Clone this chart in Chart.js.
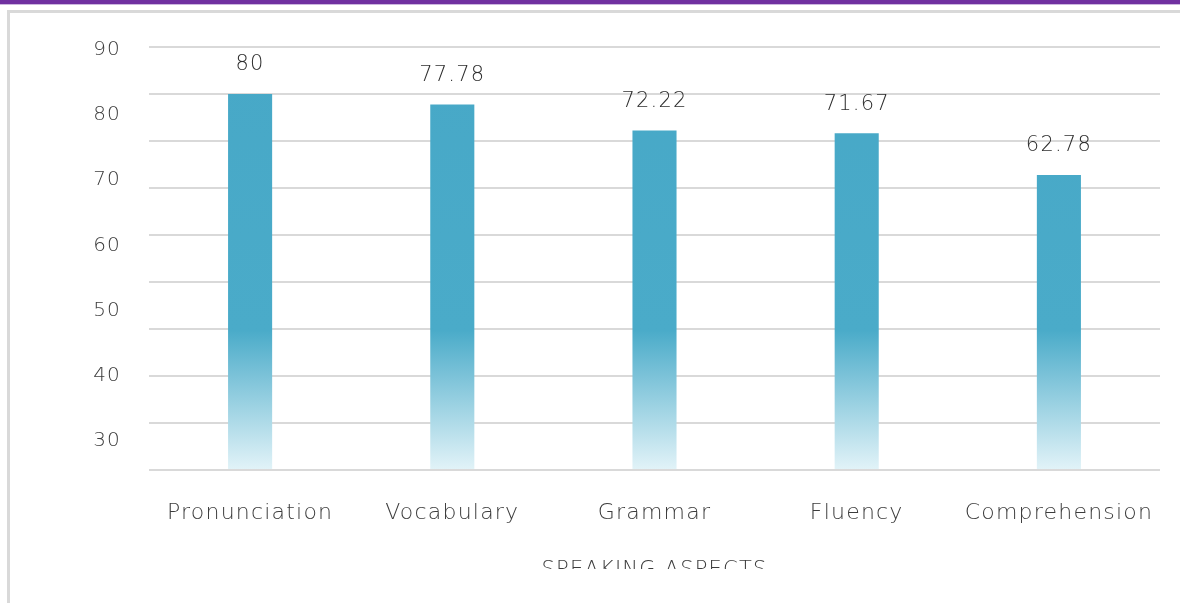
<!DOCTYPE html>
<html>
<head>
<meta charset="utf-8">
<title>Speaking aspects</title>
<script src="https://cdn.jsdelivr.net/npm/chart.js@4.4.1/dist/chart.umd.min.js"></script>
<style>
  html, body { margin: 0; padding: 0; background: #fff; }
  #wrap { position: relative; width: 1180px; height: 603px; overflow: hidden; }
  #chart { position: absolute; left: 0; top: 0; }
  #topBand { position: absolute; left: 0; top: 0; width: 1180px; height: 4px; background: #7030a0; border-bottom: 1px solid #cbb6de; }
  #frame { position: absolute; left: 7px; top: 10px; width: 1200px; height: 620px; border-top: 3px solid #d9d9d9; border-left: 3px solid #d9d9d9; box-sizing: border-box; }
  #cut { position: absolute; left: 10px; top: 569px; width: 1170px; height: 34px; background: #fff; }
</style>
</head>
<body>
<div id="wrap">
  <canvas id="chart" width="1180" height="603"></canvas>
  <div id="topBand"></div>
  <div id="frame"></div>
  <div id="cut"></div>
</div>
<script>
// datos del gráfico
const categories = ["Pronunciation", "Vocabulary", "Grammar", "Fluency", "Comprehension"];
const scores = [80, 77.78, 72.22, 71.67, 62.78];
const yTickLabels = [90, 80, 70, 60, 50, 40, 30];
const axisTitle = "SPEAKING ASPECTS";

Chart.defaults.font.family = "'DejaVu Sans', sans-serif";
Chart.defaults.font.weight = 300;
Chart.defaults.color = "#444";

// espaciado de letras, el original tiene el texto algo separado
const letterSpacing = {
  id: "letterSpacing",
  beforeDraw(chart) {
    chart.ctx.letterSpacing = "1.2px";
  },
};

// etiquetas de valor encima de cada barra
const valueLabels = {
  id: "valueLabels",
  afterDatasetsDraw(chart) {
    const ctx = chart.ctx;
    const meta = chart.getDatasetMeta(0);
    ctx.save();
    ctx.font = "300 21px 'DejaVu Sans'";
    ctx.fillStyle = "#2e2e2e";
    ctx.textAlign = "center";
    ctx.textBaseline = "middle";
    meta.data.forEach((bar, i) => {
      ctx.fillText(String(scores[i]), bar.x, bar.y - 29);
    });
    ctx.restore();
  },
};

function barGradient(context) {
  const { ctx, chartArea } = context.chart;
  if (!chartArea) return "#4aaac8";
  const g = ctx.createLinearGradient(0, chartArea.top, 0, chartArea.bottom);
  g.addColorStop(0, "#47a8c7");
  g.addColorStop(0.67, "#4aabc9");
  g.addColorStop(1, "#e2f3f8");
  return g;
}

const ctx = document.getElementById("chart").getContext("2d");
new Chart(ctx, {
  type: "bar",
  data: {
    labels: categories,
    datasets: [
      {
        data: scores,
        backgroundColor: barGradient,
        borderWidth: 0,
        barPercentage: 0.218,
        categoryPercentage: 1,
        yAxisID: "y",
      },
    ],
  },
  options: {
    responsive: false,
    animation: false,
    layout: { padding: { left: 0, right: 20, top: 47, bottom: 0 } },
    plugins: {
      legend: { display: false },
      tooltip: { enabled: false },
    },
    scales: {
      x: {
        grid: { display: false, drawTicks: false },
        border: { display: false },
        ticks: { font: { size: 22 }, color: "#3c3c3c", padding: 30, maxRotation: 0 },
        title: {
          display: true,
          text: axisTitle,
          font: { size: 21 },
          color: "#3c3c3c",
          padding: { top: 0, bottom: 20 },
        },
        afterFit(scale) {
          scale.height = 133;
        },
      },
      y: {
        position: "left",
        min: 0,
        max: 90,
        ticks: { display: false, stepSize: 10 },
        grid: { color: "#d9d9d9", lineWidth: 2, drawTicks: false },
        border: { display: false },
        afterFit(scale) {
          scale.width = 0;
        },
      },
      y2: {
        position: "left",
        min: 25.6,
        max: 90.4,
        grid: { display: false, drawTicks: false },
        border: { display: false },
        ticks: { font: { size: 20 }, color: "#3c3c3c", padding: 28, autoSkip: false },
        afterBuildTicks(scale) {
          scale.ticks = yTickLabels.map((v) => ({ value: v }));
        },
        afterFit(scale) {
          scale.width = 149;
        },
      },
    },
  },
  plugins: [letterSpacing, valueLabels],
});
</script>
</body>
</html>
